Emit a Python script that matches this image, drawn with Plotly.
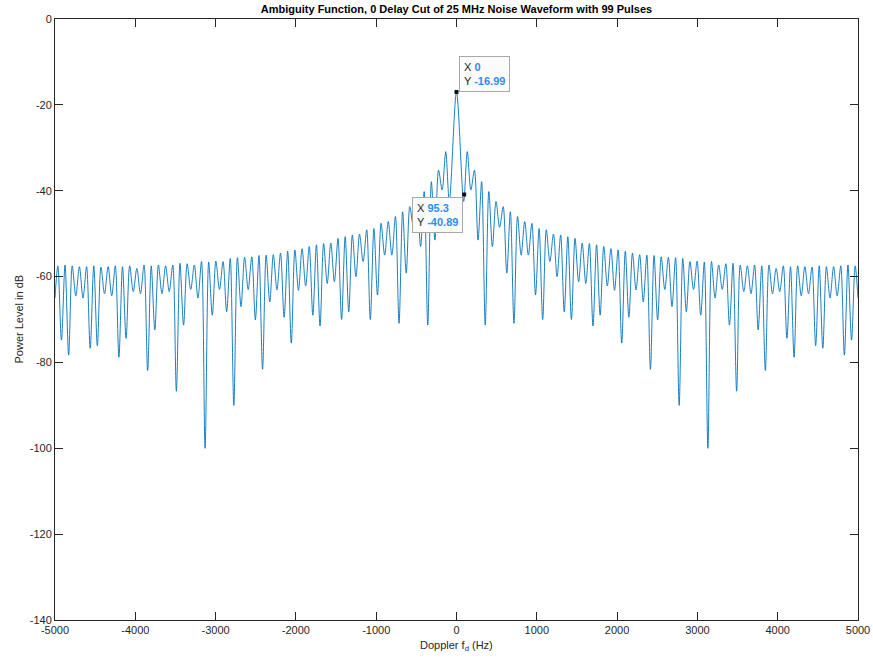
import plotly.graph_objects as go

# ---------------- data ----------------
title_text = "Ambiguity Function, 0 Delay Cut of 25 MHz Noise Waveform with 99 Pulses"
x_label = "Doppler f<sub>d</sub> (Hz)"
y_label = "Power Level in dB"

lobe_spacing_hz = 89.45          # spacing of the Doppler nulls
main_peak_hz = 0.0
main_peak_db = -16.99
edge_hz = 5000.0
edge_db = -65.0

# level at null k (k = 1..55), positive Doppler side (cut is symmetric)
null_db = [-42.5, -39.8, -51.5, -71.3, -53.0, -48.5, -59.2, -70.9, -55.0, -55.0,
           -64.3, -70.0, -56.5, -60.0, -68.2, -70.0, -61.2, -61.6, -71.5, -69.0,
           -62.2, -63.2, -75.5, -69.5, -63.1, -65.9, -81.6, -70.1, -63.0, -67.0,
           -90.0, -68.2, -63.0, -69.0, -100.0, -65.0, -63.0, -71.3, -86.7, -63.5,
           -64.0, -72.4, -81.9, -64.0, -63.5, -74.4, -78.8, -64.5, -64.0, -76.1,
           -76.7, -65.0, -64.5, -78.3, -74.8]

# level of the sidelobe peak between null k and null k+1 (k = 1..55)
peak_db = [-30.9, -35.2, -37.9, -40.2, -42.5, -43.7, -44.9, -46.0, -47.2, -47.6,
           -48.8, -49.1, -50.1, -50.3, -50.7, -51.1, -52.2, -52.3, -52.6, -53.0,
           -53.5, -53.8, -54.1, -54.5, -54.9, -55.0, -55.1, -55.4, -55.5, -55.6,
           -55.8, -56.5, -56.4, -56.6, -56.5, -57.3, -57.0, -56.9, -57.3, -57.5,
           -57.3, -57.5, -57.3, -58.1, -57.5, -57.7, -57.5, -57.7, -57.8, -57.5,
           -57.7, -57.7, -57.5, -57.3, -57.5]

x_ticks = [-5000, -4000, -3000, -2000, -1000, 0, 1000, 2000, 3000, 4000, 5000]
y_ticks = [0, -20, -40, -60, -80, -100, -120, -140]

tip_x = [0.0, 95.3]
tip_y = [-16.99, -40.89]
tip_x_text = ["0", "95.3"]
tip_y_text = ["-16.99", "-40.89"]

# ---------------- build the curve ----------------
pos_f = [main_peak_hz]
pos_v = [main_peak_db]
for i, (nv, pv) in enumerate(zip(null_db, peak_db)):
    k = i + 1
    pos_f += [k * lobe_spacing_hz, (k + 0.5) * lobe_spacing_hz]
    pos_v += [nv, pv]
pos_f.append(edge_hz)
pos_v.append(edge_db)

freq = [-f for f in pos_f[::-1]] + pos_f[1:]
level = pos_v[::-1] + pos_v[1:]

FONT = "Liberation Sans, Arial, Helvetica, sans-serif"
AX = "#262626"
BLUE = "#0072BD"
TIPBLUE = "#2E8CF0"

fig = go.Figure()
fig.add_trace(go.Scatter(x=freq, y=level, mode="lines",
                         line=dict(color=BLUE, width=0.9, shape="spline",
                                   smoothing=0.9),
                         hoverinfo="skip", showlegend=False))
fig.add_trace(go.Scatter(x=tip_x, y=tip_y, mode="markers",
                         marker=dict(symbol="square", size=4, color="#111111"),
                         hoverinfo="skip", showlegend=False))

axis_common = dict(showline=True, linecolor=AX, linewidth=1, mirror="ticks",
                   ticks="inside", ticklen=8, tickwidth=1, tickcolor=AX,
                   showgrid=False, zeroline=False, automargin=False,
                   tickfont=dict(family=FONT, size=11, color=AX))

fig.update_layout(
    width=873, height=659,
    margin=dict(l=55, r=15, t=19, b=39),
    paper_bgcolor="white", plot_bgcolor="white",
    hovermode=False,
    title=dict(text="<b>" + title_text + "</b>", x=0.5, xref="paper",
               y=1 - 9.5 / 659, yref="container", yanchor="middle",
               font=dict(family=FONT, size=11, color="#000000")),
    xaxis=dict(range=[-5000, 5000], tickvals=x_ticks,
               ticktext=[str(v) for v in x_ticks], **axis_common),
    yaxis=dict(range=[-140, 0], tickvals=y_ticks,
               ticktext=[str(v) for v in y_ticks], **axis_common),
)

annotations = [
    dict(text=x_label, x=0.5, y=-(646 - 620) / 601, xref="paper", yref="paper",
         showarrow=False, xanchor="center", yanchor="middle",
         font=dict(family=FONT, size=11, color=AX)),
    dict(text=y_label, x=(18 - 55) / 803, y=0.5, xref="paper", yref="paper",
         showarrow=False, textangle=-90, xanchor="center", yanchor="middle",
         font=dict(family=FONT, size=11, color=AX)),
]

tip_anchor = [("left", "bottom", 2, 0), ("right", "top", -1, -2)]
for i in range(len(tip_x)):
    xa, ya, xs, ys = tip_anchor[i]
    txt = ("X <span style='color:%s'><b>%s</b></span><br>"
           "Y <span style='color:%s'><b>%s</b></span>"
           % (TIPBLUE, tip_x_text[i], TIPBLUE, tip_y_text[i]))
    annotations.append(dict(text=txt, x=tip_x[i], y=tip_y[i], xref="x", yref="y",
                            showarrow=False, xanchor=xa, yanchor=ya,
                            xshift=xs, yshift=ys, align="left",
                            bgcolor="#FBFBFB", bordercolor="#A8A8A8",
                            borderwidth=1, borderpad=4,
                            font=dict(family=FONT, size=11, color=AX)))
fig.update_layout(annotations=annotations)

fig.write_html("out.html",
               config={"displayModeBar": False, "staticPlot": True},
               post_script="document.body.style.margin='0px';"
                           "document.body.style.overflow='hidden';")
